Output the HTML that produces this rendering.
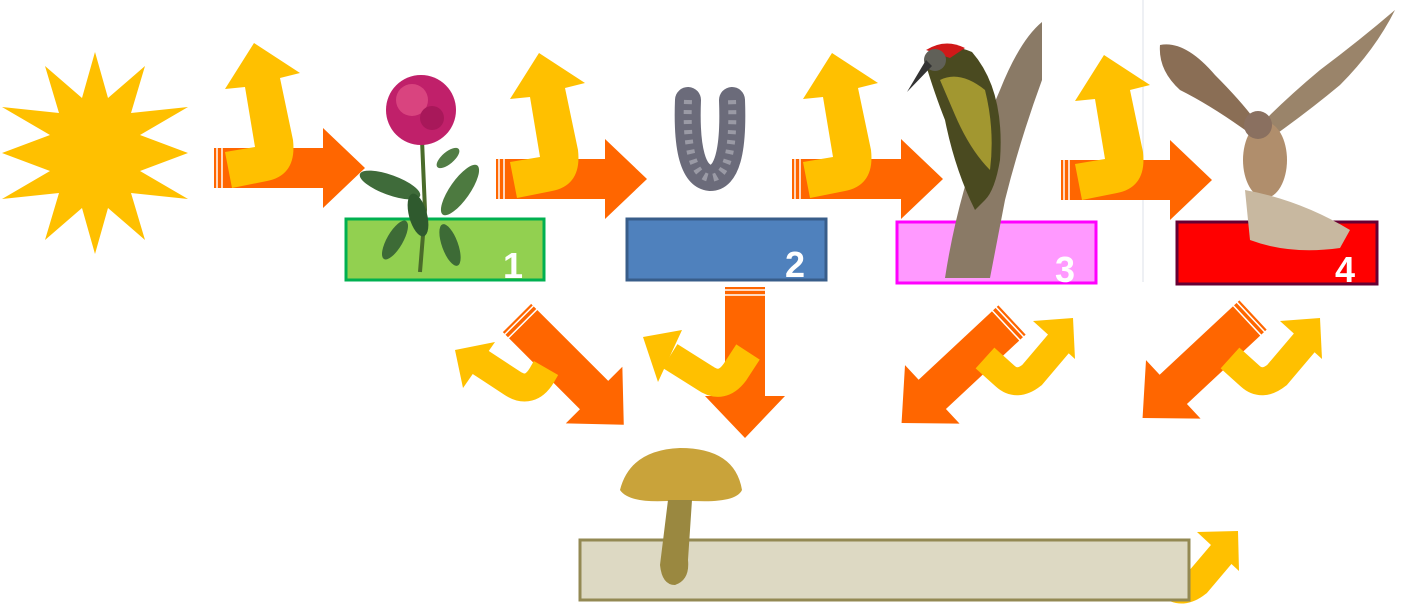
<!DOCTYPE html>
<html><head><meta charset="utf-8"><style>
html,body{margin:0;padding:0;background:#fff;width:1413px;height:604px;overflow:hidden}
text{font-family:"Liberation Sans",sans-serif;font-weight:bold;fill:#fff}
</style></head><body>
<svg width="1413" height="604" viewBox="0 0 1413 604" xmlns="http://www.w3.org/2000/svg">
<defs>
<g id="oa">
<path d="M0,-20 H109 V-40 L151,0 L109,40 V20 H0 Z" fill="#FF6600"/>
<line x1="3" y1="-21" x2="3" y2="21" stroke="#fff" stroke-width="1.5"/>
<line x1="8" y1="-21" x2="8" y2="21" stroke="#fff" stroke-width="1.5"/>
</g>
<path id="ya" d="M225,152 L255,147 L245,87 L225,89 L254,43 L300,73 L280,78 L293,140 Q297,175 267,181 L232,188 Z" fill="#FFC000"/>
</defs>
<line x1="1143" y1="0" x2="1143" y2="282" stroke="#dde0e8" stroke-width="1"/>
<!-- sun -->
<polygon fill="#FFC000" points="
95,52 108,98 145,66 131,113 188,107 140,135 188,153 140,171 188,199 131,193 145,240 108,208 95,254 82,208 45,240 59,193 2,199 50,171 2,153 50,135 2,107 59,113 45,66 82,98"/>
<!-- top arrows -->
<use href="#oa" transform="translate(214,168)"/>
<use href="#ya"/>
<use href="#oa" transform="translate(496,179)"/>
<use href="#ya" transform="translate(285,10)"/>
<use href="#oa" transform="translate(792,179)"/>
<use href="#ya" transform="translate(578,10)"/>
<use href="#oa" transform="translate(1061,180)"/>
<use href="#ya" transform="translate(850,12)"/>
<!-- bottom orange -->
<use href="#oa" transform="translate(517,318) rotate(45)"/>
<use href="#oa" transform="translate(745,287) rotate(90)"/>
<use href="#oa" transform="translate(1012,320) rotate(137)"/>
<use href="#oa" transform="translate(1253,315) rotate(137)"/>
<!-- bottom yellow -->
<g fill="none" stroke="#FFC000" stroke-width="28">
<path d="M480,362 L512,383 Q530,395 542,375 L546,368"/>
<path d="M670,356 L705,378 Q722,390 735,372 L748,352"/>
<path d="M985,358 L1005,376 Q1017,387 1032,375 L1060,342"/>
<path d="M1230,358 L1250,376 Q1262,387 1277,375 L1305,342"/>
<path d="M1150,568 L1170,585 Q1182,595 1197,583 L1225,550"/>
</g>
<g fill="#FFC000">
<polygon points="455,350 495,342 463,388"/>
<polygon points="643,337 682,330 658,382"/>
<polygon points="1073,318 1033,321 1075,359"/>
<polygon points="1320,318 1280,321 1322,359"/>
<polygon points="1238,531 1197,532 1239,571"/>
</g>
<!-- boxes -->
<rect x="346" y="219" width="198" height="61" fill="#92D050" stroke="#00B050" stroke-width="3"/>
<rect x="627" y="219" width="199" height="61" fill="#4F81BD" stroke="#385D8A" stroke-width="3"/>
<rect x="897" y="222" width="199" height="61" fill="#FF99FF" stroke="#FF00FF" stroke-width="3"/>
<rect x="1177" y="222" width="200" height="62" fill="#FF0000" stroke="#660033" stroke-width="3"/>
<rect x="580" y="540" width="609" height="60" fill="#DDD9C3" stroke="#938953" stroke-width="3"/>
<!-- clover -->
<g>
<path d="M422,140 L425,210 L420,272" stroke="#4a6b2a" stroke-width="4" fill="none"/>
<ellipse cx="390" cy="185" rx="32" ry="10" fill="#3f6b3a" transform="rotate(20 390 185)"/>
<ellipse cx="460" cy="190" rx="30" ry="10" fill="#4d7a40" transform="rotate(-55 460 190)"/>
<ellipse cx="418" cy="215" rx="22" ry="9" fill="#2f5a2e" transform="rotate(75 418 215)"/>
<ellipse cx="448" cy="158" rx="14" ry="6" fill="#527d45" transform="rotate(-40 448 158)"/>
<ellipse cx="395" cy="240" rx="22" ry="8" fill="#3d6b36" transform="rotate(-60 395 240)"/>
<ellipse cx="450" cy="245" rx="22" ry="8" fill="#3d6b36" transform="rotate(70 450 245)"/>
<circle cx="421" cy="110" r="35" fill="#C0206A"/>
<circle cx="412" cy="100" r="16" fill="#d9447f"/>
<circle cx="432" cy="118" r="12" fill="#a8185a"/>
</g>
<!-- caterpillar -->
<path d="M688,100 Q685,175 710,178 Q735,178 732,100" fill="none" stroke="#6b6b7a" stroke-width="26" stroke-linecap="round"/>
<path d="M688,100 Q685,175 710,178 Q735,178 732,100" fill="none" stroke="#9a9aa5" stroke-width="8" stroke-dasharray="4 6"/>
<!-- woodpecker branch -->
<path d="M945,278 Q960,180 1000,90 Q1020,40 1042,22 L1042,80 Q1020,140 1005,200 L990,278 Z" fill="#8a7a66"/>
<path d="M925,62 Q945,40 972,52 Q1005,90 1000,160 Q995,190 985,200 L975,210 Q955,170 945,120 Q935,95 925,62 Z" fill="#4a4a20"/>
<path d="M940,80 Q960,70 985,90 Q995,130 990,170 Q970,150 955,115 Z" fill="#c8b838" opacity="0.7"/>
<path d="M926,50 Q945,38 965,48 L950,58 Z" fill="#d01818"/>
<circle cx="935" cy="60" r="11" fill="#606058"/>
<path d="M926,60 L907,92 L932,66 Z" fill="#333"/>
<!-- kestrel -->
<g fill="#8a6e55">
<path d="M1160,45 Q1185,40 1215,75 Q1240,100 1255,120 L1245,130 Q1210,105 1180,90 Q1158,70 1160,45 Z"/>
<path d="M1395,10 Q1360,40 1320,70 Q1290,95 1265,120 L1275,135 Q1310,110 1340,85 Q1375,50 1395,10 Z" fill="#9a846a"/>
<ellipse cx="1265" cy="160" rx="22" ry="38" fill="#b08e6c"/>
<circle cx="1258" cy="125" r="14" fill="#8a7060"/>
<path d="M1245,190 Q1300,200 1350,230 L1340,248 Q1290,255 1250,240 Z" fill="#c8b8a0"/>
</g>
<!-- mushroom -->
<path d="M620,490 Q630,450 680,448 Q735,448 742,490 Q735,505 680,500 Q630,505 620,490 Z" fill="#C9A33A"/>
<path d="M668,500 L660,565 Q662,585 675,585 Q690,580 688,560 L692,500 Z" fill="#9a8840"/>
<!-- numbers -->
<text x="503" y="278" font-size="36">1</text>
<text x="785" y="277" font-size="36">2</text>
<text x="1055" y="282" font-size="36">3</text>
<text x="1335" y="282" font-size="36">4</text>
</svg>
</body></html>
